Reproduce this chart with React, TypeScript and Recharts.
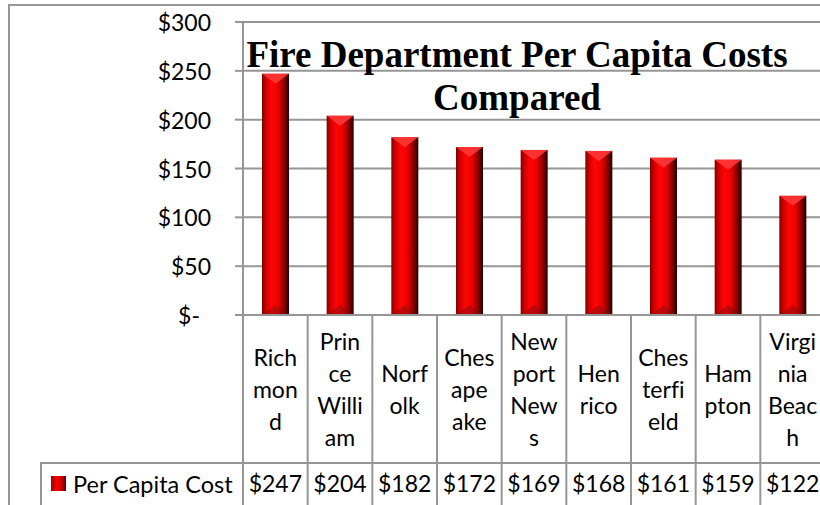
import { BarChart, Bar, XAxis, YAxis, CartesianGrid } from 'recharts'

const CATEGORIES = [
  'Richmond',
  'Prince William',
  'Norfolk',
  'Chesapeake',
  'Newport News',
  'Henrico',
  'Chesterfield',
  'Hampton',
  'Virginia Beach',
]
// how the cell text wraps in the data table
const CATEGORY_LINES = [
  ['Rich', 'mon', 'd'],
  ['Prin', 'ce', 'Willi', 'am'],
  ['Norf', 'olk'],
  ['Ches', 'ape', 'ake'],
  ['New', 'port', 'New', 's'],
  ['Hen', 'rico'],
  ['Ches', 'terfi', 'eld'],
  ['Ham', 'pton'],
  ['Virgi', 'nia', 'Beac', 'h'],
]
const PER_CAPITA_COST = [247, 204, 182, 172, 169, 168, 161, 159, 122]
const Y_TICKS = [0, 50, 100, 150, 200, 250, 300]
const SERIES_NAME = 'Per Capita Cost'
const TITLE_LINES = ['Fire Department Per Capita Costs', 'Compared']

const W = 820
const H = 505
const Y_AXIS_W = 243
const X_AXIS_H = 190
const RIGHT_OVERFLOW = 5
const COL_W = (W + RIGHT_OVERFLOW - Y_AXIS_W) / CATEGORIES.length
const LABEL_ROW_H = 148
const LINE_COLOR = '#969696'
const FONT = 'Lato, "Open Sans", sans-serif'
const NO_LIGA = { fontVariantLigatures: 'none' as const }

const data = CATEGORIES.map((name, i) => ({ name, cost: PER_CAPITA_COST[i] }))

function BevelBar(props: any) {
  const { x, y, width, height } = props
  if (!height || height <= 0) return null
  const b = Math.min(10, height / 2)
  return (
    <g>
      <rect x={x} y={y} width={width} height={height} fill="url(#barBody)" />
      <polygon
        points={`${x},${y} ${x + width},${y} ${x + width / 2},${y + b}`}
        fill="#ff3a3a"
        opacity={0.85}
      />
      <polygon
        points={`${x},${y + height} ${x + width},${y + height} ${x + width / 2},${y + height - b}`}
        fill="#7a1010"
        opacity={0.45}
      />
    </g>
  )
}

function MoneyTick(props: any) {
  const { x, y, payload } = props
  const v = payload.value
  return (
    <text
      x={v === 0 ? x - 11 : x}
      y={y}
      textAnchor="end"
      dominantBaseline="central"
      fontFamily={FONT}
      fontSize={23}
      fill="#000"
    >
      {v === 0 ? '$-' : `$${v}`}
    </text>
  )
}

function TableTick(props: any) {
  const { x, y, payload } = props
  const i = CATEGORIES.indexOf(payload.value)
  const lines = CATEGORY_LINES[i] || []
  const left = x - COL_W / 2
  const right = x + COL_W / 2
  const mid = y + LABEL_ROW_H / 2
  return (
    <g>
      {i === 0 && <line x1={left} x2={left} y1={y} y2={H} stroke={LINE_COLOR} strokeWidth={2} />}
      <line x1={right} x2={right} y1={y} y2={H} stroke={LINE_COLOR} strokeWidth={2} />
      <line x1={left} x2={right} y1={y + LABEL_ROW_H} y2={y + LABEL_ROW_H} stroke={LINE_COLOR} strokeWidth={2} />
      {lines.map((l, k) => (
        <text
          key={k}
          x={x}
          y={mid + (k - (lines.length - 1) / 2) * 32}
          textAnchor="middle"
          dominantBaseline="central"
          fontFamily={FONT}
          fontSize={23}
          fill="#000"
          style={NO_LIGA}
        >
          {l}
        </text>
      ))}
      <text
        x={x}
        y={y + 168}
        textAnchor="middle"
        dominantBaseline="central"
        fontFamily={FONT}
        fontSize={23}
        fill="#000"
      >
        ${PER_CAPITA_COST[i]}
      </text>
    </g>
  )
}

export default function App() {
  return (
    <div style={{ position: 'absolute', left: 0, top: 0, width: W, height: H, background: '#fff', overflow: 'hidden' }}>
      <BarChart width={W} height={H} data={data} margin={{ top: 22, right: -RIGHT_OVERFLOW, bottom: 0, left: 0 }}>
        <defs>
          <linearGradient id="barBody" x1="0" y1="0" x2="1" y2="0">
            <stop offset="0%" stopColor="#7a0000" />
            <stop offset="12%" stopColor="#c80000" />
            <stop offset="35%" stopColor="#ff0505" />
            <stop offset="58%" stopColor="#f00000" />
            <stop offset="82%" stopColor="#8a0000" />
            <stop offset="100%" stopColor="#1e0000" />
          </linearGradient>
        </defs>
        <CartesianGrid vertical={false} stroke={LINE_COLOR} strokeWidth={2} />
        <YAxis
          width={Y_AXIS_W}
          domain={[0, 300]}
          ticks={Y_TICKS}
          interval={0}
          tickSize={8}
          tickMargin={24}
          tick={<MoneyTick />}
          axisLine={{ stroke: LINE_COLOR, strokeWidth: 2 }}
          tickLine={{ stroke: LINE_COLOR, strokeWidth: 2 }}
        />
        <XAxis
          dataKey="name"
          height={X_AXIS_H}
          interval={0}
          tickSize={0}
          tickMargin={0}
          tickLine={false}
          tick={<TableTick />}
          axisLine={{ stroke: LINE_COLOR, strokeWidth: 2 }}
        />
        <Bar dataKey="cost" name={SERIES_NAME} barSize={27} shape={<BevelBar />} isAnimationActive={false} />
      </BarChart>

      {/* chart frame */}
      <div
        style={{
          position: 'absolute',
          left: 8,
          top: 4,
          width: W,
          height: H,
          borderLeft: `2px solid ${LINE_COLOR}`,
          borderTop: `2px solid ${LINE_COLOR}`,
          pointerEvents: 'none',
        }}
      />

      {/* title */}
      <div
        style={{
          position: 'absolute',
          left: 517 - 300,
          top: 33,
          width: 600,
          textAlign: 'center',
          fontFamily: '"Liberation Serif", "Times New Roman", serif',
          fontWeight: 'bold',
          fontSize: 37,
          lineHeight: '43px',
          whiteSpace: 'nowrap',
          color: '#000',
        }}
      >
        {TITLE_LINES.map(t => (
          <div key={t}>{t}</div>
        ))}
      </div>

      {/* legend cell of the data table */}
      <div
        style={{
          position: 'absolute',
          left: 40,
          top: 462,
          width: Y_AXIS_W - 40,
          height: 50,
          borderLeft: `2px solid ${LINE_COLOR}`,
          borderTop: `2px solid ${LINE_COLOR}`,
          boxSizing: 'border-box',
        }}
      >
        <div
          style={{
            position: 'absolute',
            left: 9,
            top: 12,
            width: 15,
            height: 15,
            background: 'linear-gradient(90deg, #a00000, #ff0000 40%, #b00000 80%, #400000)',
          }}
        />
        <div
          style={{
            position: 'absolute',
            left: 31,
            top: 4,
            fontFamily: FONT,
            fontSize: 23.5,
            lineHeight: '32px',
            whiteSpace: 'nowrap',
            color: '#000',
          }}
        >
          {SERIES_NAME}
        </div>
      </div>
    </div>
  )
}
